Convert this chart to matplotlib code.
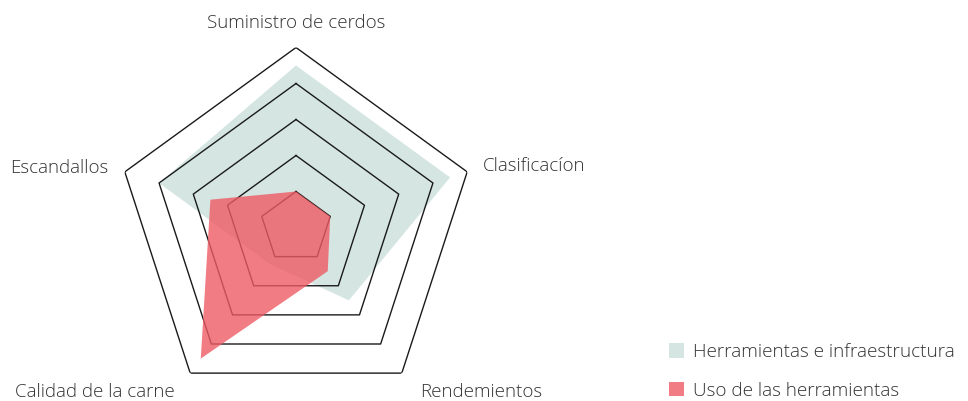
import numpy as np
import matplotlib
matplotlib.use("Agg")
from matplotlib import pyplot as plt
from matplotlib.patches import Patch

# ejes del radar (en sentido horario desde arriba)
categorias = ["Suministro de cerdos", "Clasificacíon", "Rendemientos",
              "Calidad de la carne", "Escandallos"]
herramientas = [4.5, 4.5, 2.5, 1.25, 4.0]
uso = [1.0, 1.0, 1.5, 4.5, 2.5]
niveles = [1, 2, 3, 4, 5]
series = ["Herramientas e infraestructura", "Uso de las herramientas"]

verde = "#d4e5e2"
rojo = "#ef5b64"
texto = "#333333"

plt.rcParams["font.family"] = ["Open Sans", "DejaVu Sans"]

fig = plt.figure(figsize=(9.68, 4.01), dpi=100)
# centro en (296, 227.5) px, radio 180 px
ax = fig.add_axes([116 / 968, (401 - 227.5 - 180) / 401, 360 / 968, 360 / 401],
                  projection="polar")
ax.set_theta_offset(np.pi / 2)
ax.set_theta_direction(-1)
ax.set_ylim(0, 5)
ax.axis("off")

n = len(categorias)
ang = np.linspace(0, 2 * np.pi, n, endpoint=False)
ang_c = np.append(ang, ang[0])

# relleno verde por debajo de la rejilla
ax.fill(ang_c, herramientas + herramientas[:1], color=verde, lw=0, zorder=1)

# rejilla pentagonal
for nv in niveles:
    ax.plot(ang_c, [nv] * (n + 1), color="#1a1a1a", lw=1.0, zorder=2)

# relleno rojo translúcido encima
ax.fill(ang_c, uso + uso[:1], color=rojo, alpha=0.8, lw=0, zorder=3)

# etiquetas de los ejes
pos = [(296, 23, "center"), (483, 166, "left"), (481, 392, "center"),
       (95, 392, "center"), (108, 168, "right")]
for cat, (x, y, ha) in zip(categorias, pos):
    fig.text(x / 968, 1 - y / 401, cat, ha=ha, va="center",
             fontsize=13.5, fontweight="light", color=texto)

handles = [Patch(facecolor=verde, edgecolor="none"),
           Patch(facecolor=rojo, alpha=0.8, edgecolor="none")]
fig.legend(handles, series, loc="upper left",
           bbox_to_anchor=(652 / 968, 1 - 326 / 401), frameon=False,
           labelcolor=texto, handlelength=0.8,
           handleheight=0.8, handletextpad=0.45, labelspacing=1.1,
           prop={"weight": "light", "size": 13.6})

fig.savefig("out.png", dpi=100)
